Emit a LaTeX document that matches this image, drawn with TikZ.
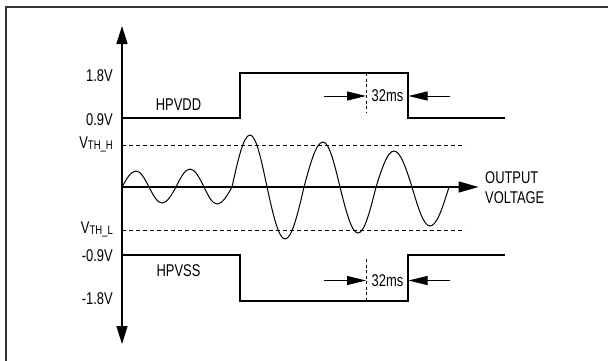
\documentclass[tikz,border=0pt]{standalone}
\usepackage{fontspec}
\setmainfont[FakeStretch=0.76]{Liberation Sans}
\usetikzlibrary{arrows.meta}
\begin{document}
\begin{tikzpicture}[x=1pt,y=-1pt,
  lbl/.style={font=\fontsize{17}{19}\selectfont, inner sep=0pt},
  ax/.style={line width=1.4pt},
  sig/.style={line width=1.4pt},
  wave/.style={line width=1pt},
  thr/.style={line width=1pt, dash pattern=on 4pt off 3pt},
  tmark/.style={line width=0.8pt, dash pattern=on 3pt off 2.5pt},
  dimarrow/.style={line width=1pt, -{Triangle[length=19pt,width=9pt]}}
]
\useasboundingbox (0,0) rectangle (608,360);
% frame
\draw[line width=2pt, black!80] (6,365) -- (6,6.5) -- (612,6.5);
% axes
\coordinate (top) at (122,26);
\coordinate (bot) at (122,344);
\coordinate (o) at (122,187);
\coordinate (oe) at (478.5,187);
\draw[ax, {Triangle[length=18pt,width=11pt]}-{Triangle[length=18pt,width=11pt]}] (top) -- (bot);
\draw[ax, -{Triangle[length=20pt,width=11pt]}] (o) -- (oe);
% thresholds
\coordinate (thh0) at (122,145); \coordinate (thh1) at (465,145);
\coordinate (thl0) at (122,230); \coordinate (thl1) at (465,230);
\draw[thr] (thh0) -- (thh1);
\draw[thr] (thl0) -- (thl1);
% HPVDD / HPVSS
\coordinate (vdd0) at (122,118);
\coordinate (vss0) at (122,255);
\draw[sig] (vdd0) -- (240,118) -- (240,73) -- (408,73) -- (408,118) -- (505,118);
\draw[sig] (vss0) -- (240,255) -- (240,301) -- (408,301) -- (408,255) -- (505,255);
% waveform
\draw[wave] (o) sin (136,171) cos (149,187) sin (162,203) cos (176,187)
  sin (190,169) cos (204,187) sin (217,204) cos (232,187)
  sin (250,135) cos (267,187) sin (285,239) cos (304,187)
  sin (323,142) cos (340,187) sin (358,233) cos (376,187)
  sin (394,151) cos (412,187) sin (430,226) cos (449,187);
% 32ms markers (top)
\coordinate (mt0) at (366.5,73); \coordinate (mt1) at (366.5,113);
\draw[tmark] (mt0) -- (mt1);
\coordinate (at0) at (324,96); \coordinate (at1) at (366,96);
\coordinate (at2) at (450,96); \coordinate (at3) at (408.5,96);
\draw[dimarrow] (at0) -- (at1);
\draw[dimarrow] (at2) -- (at3);
\node[lbl, anchor=base] (t32a) at (387.5,101.7) {32ms};
% 32ms markers (bottom)
\coordinate (mb0) at (366.5,259); \coordinate (mb1) at (366.5,301);
\draw[tmark] (mb0) -- (mb1);
\coordinate (ab0) at (324,280.5); \coordinate (ab1) at (366,280.5);
\coordinate (ab2) at (450,280.5); \coordinate (ab3) at (408.5,280.5);
\draw[dimarrow] (ab0) -- (ab1);
\draw[dimarrow] (ab2) -- (ab3);
\node[lbl, anchor=base] (t32b) at (387.5,286) {32ms};
% labels
\node[lbl, anchor=base east] (l18) at (113,81.7) {1.8V};
\node[lbl, anchor=base east] (l09) at (113,125) {0.9V};
\node[lbl, anchor=base east] (lvth) at (113,148.3) {V\raisebox{-1pt}{\fontsize{12.5}{12.5}\selectfont TH\_H}};
\node[lbl, anchor=base east] (lvtl) at (113,233.3) {V\raisebox{-1.5pt}{\fontsize{12.5}{12.5}\selectfont TH\_L}};
\node[lbl, anchor=base east] (lm09) at (113,261.7) {-0.9V};
\node[lbl, anchor=base east] (lm18) at (113,304) {-1.8V};
\node[lbl, anchor=base] (hpvdd) at (178.5,110.7) {HPVDD};
\node[lbl, anchor=base] (hpvss) at (178.5,276.7) {HPVSS};
\node[lbl, anchor=base west] (out1) at (485,183.3) {OUTPUT};
\node[lbl, anchor=base west] (out2) at (485,203.3) {VOLTAGE};
\end{tikzpicture}
\end{document}
